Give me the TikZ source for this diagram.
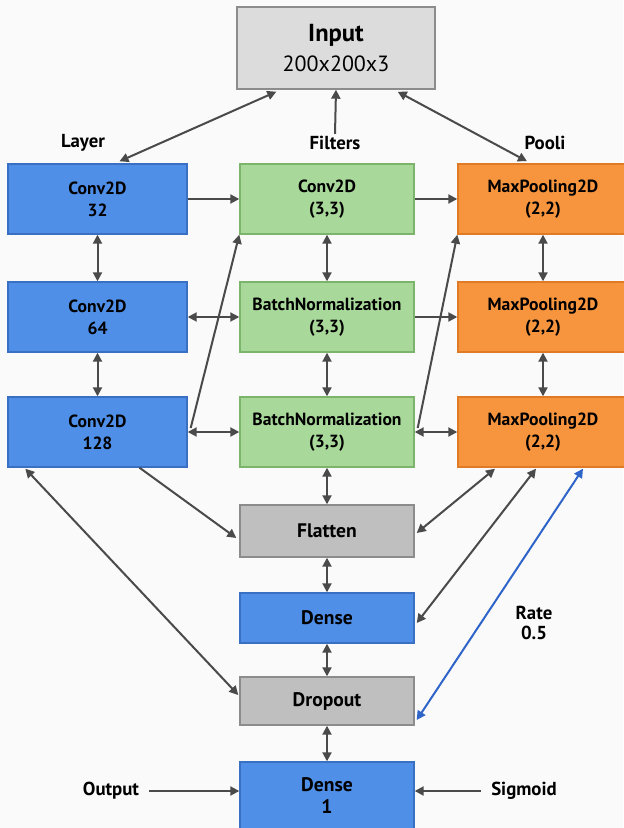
\documentclass[tikz,border=0pt]{standalone}
\usepackage{fontspec}
\setmainfont{PT Sans}
\usepackage{tikz}
\usetikzlibrary{positioning,calc,arrows.meta}

\definecolor{sfondo}{HTML}{FAFAFA}
\definecolor{blu}{HTML}{4F8FE8}
\definecolor{blubordo}{HTML}{3A70C4}
\definecolor{verde}{HTML}{A8D89A}
\definecolor{verdebordo}{HTML}{7DB46C}
\definecolor{arancio}{HTML}{F7953F}
\definecolor{aranciobordo}{HTML}{E07A26}
\definecolor{grigio}{HTML}{BFBFBF}
\definecolor{grigiochiaro}{HTML}{DCDCDC}
\definecolor{grigiobordo}{HTML}{8C8C8C}
\definecolor{linea}{HTML}{4A4A4A}
\definecolor{lineablu}{HTML}{2F64C8}

\begin{document}
\begin{tikzpicture}[x=0.5pt,y=-0.5pt,
		blocco/.style={draw, line width=0.7pt, align=center, inner sep=0pt,
			font=\bfseries\fontsize{8.8}{11}\selectfont},
		livello/.style={blocco, fill=blu, draw=blubordo, minimum width=89.5pt, minimum height=35pt},
		filtro/.style={blocco, fill=verde, draw=verdebordo, minimum width=87pt, minimum height=35pt},
		pool/.style={blocco, fill=arancio, draw=aranciobordo, minimum width=85pt, minimum height=35pt},
		piatto/.style={blocco, fill=grigio, draw=grigiobordo, minimum width=87pt,
			font=\bfseries\fontsize{9.8}{11}\selectfont},
		densa/.style={blocco, fill=blu, draw=blubordo, minimum width=87pt,
			font=\bfseries\fontsize{9.8}{11}\selectfont},
		etichetta/.style={font=\bfseries\fontsize{9.4}{10}\selectfont, align=center, inner sep=1pt},
		punta/.tip={Triangle[length=4.5pt,width=4.5pt]},
		frec/.style={-punta, line width=1pt, draw=linea},
		dfrec/.style={punta-punta, line width=1pt, draw=linea}]

				% Sfondo e margini
				\fill[sfondo] (0,0) rectangle (623,828);
				\useasboundingbox (0,0) rectangle (623,828);

				% Ingresso
				\node[blocco, fill=grigiochiaro, draw=grigiobordo, minimum width=99pt, minimum height=41pt,
					font=\fontsize{11}{15}\selectfont] (input) at (336,48) {{\fontsize{12.3}{15}\selectfont\bfseries Input}\\200x200x3};

				% Intestazioni delle colonne
				\node[etichetta] (llay) at (83,143) {Layer};
				\node[etichetta] (lfil) at (335,143) {Filters};
				\node[etichetta] (lpool) at (545,143) {Pooli};

				% Colonna dei livelli
				\node[livello] (c1) at (97.5,199) {Conv2D\\32};
				\node[livello] (c2) at (97.5,317) {Conv2D\\64};
				\node[livello] (c3) at (97.5,432) {Conv2D\\128};

				% Colonna dei filtri
				\node[filtro] (f1) at (327,199) {Conv2D\\(3,3)};
				\node[filtro] (f2) at (327,317) {BatchNormalization\\(3,3)};
				\node[filtro] (f3) at (327,432) {BatchNormalization\\(3,3)};

				% Colonna del pooling
				\node[pool] (p1) at (543,199) {MaxPooling2D\\(2,2)};
				\node[pool] (p2) at (543,317) {MaxPooling2D\\(2,2)};
				\node[pool] (p3) at (543,432) {MaxPooling2D\\(2,2)};

				% Parte finale della rete
				\node[piatto, minimum height=26pt] (flat) at (327,531) {Flatten};
				\node[densa, minimum height=25pt] (dense) at (327,618) {Dense};
				\node[piatto, minimum height=24pt] (drop) at (327,701) {Dropout};
				\node[densa, minimum height=34pt] (d1) at (327,796) {Dense\\1};

				% Note laterali
				\node[etichetta] (lrate) at (534,623) {Rate\\0.5};
				\node[etichetta] (lout) at (111,791) {Output};
				\node[etichetta] (lsig) at (524,791) {Sigmoid};

				% Collegamenti con l'ingresso
				\draw[dfrec] ($(c1.north)+(22,-2)$) -- ($(input.south west)+(40,2)$);
				\draw[frec] (lfil.north) -- (input.south);
				\draw[dfrec] ($(p1.north)+(-16,-2)$) -- ($(input.south east)+(-38,2)$);

				% Collegamenti orizzontali
				\draw[frec] (c1) -- (f1);
				\draw[frec] (f1) -- (p1);
				\draw[dfrec] (c2) -- (f2);
				\draw[frec] (f2) -- (p2);
				\draw[dfrec] (c3) -- (f3);
				\draw[dfrec] (f3) -- (p3);

				% Collegamenti verticali
				\draw[dfrec] (c1) -- (c2);
				\draw[dfrec] (c2) -- (c3);
				\draw[dfrec] (f1) -- (f2);
				\draw[dfrec] (f2) -- (f3);
				\draw[dfrec] (f3) -- (flat);
				\draw[dfrec] (p1) -- (p2);
				\draw[dfrec] (p2) -- (p3);
				\draw[dfrec] (flat) -- (dense);
				\draw[dfrec] (dense) -- (drop);
				\draw[dfrec] (drop) -- (d1);

				% Diagonali
				\draw[frec] ($(c3.east)+(3,-4)$) -- (f1.south west);
				\draw[frec] ($(f3.east)+(3,-4)$) -- (p1.south west);
				\draw[dfrec] ($(c3.south west)+(18,1)$) -- ($(drop.west)+(-1,-6)$);
				\draw[frec] ($(c3.south)+(42,0)$) -- ($(flat.west)+(-3,7)$);
				\draw[dfrec] ($(p3.south)+(-48,1)$) -- ($(flat.east)+(2,2)$);
				\draw[dfrec] ($(p3.south)+(-7,1)$) -- ($(dense.east)+(2,5)$);
				\draw[dfrec, draw=lineablu, fill=lineablu] ($(p3.south)+(40,1)$) -- ($(drop.east)+(2,19)$);

				% Uscita
				\draw[frec] (lout.east) ++(8,0) -- (lout.east -| d1.west);
				\draw[frec] (lsig.west) ++(-8,0) -- (lsig.west -| d1.east);
\end{tikzpicture}
\end{document}
